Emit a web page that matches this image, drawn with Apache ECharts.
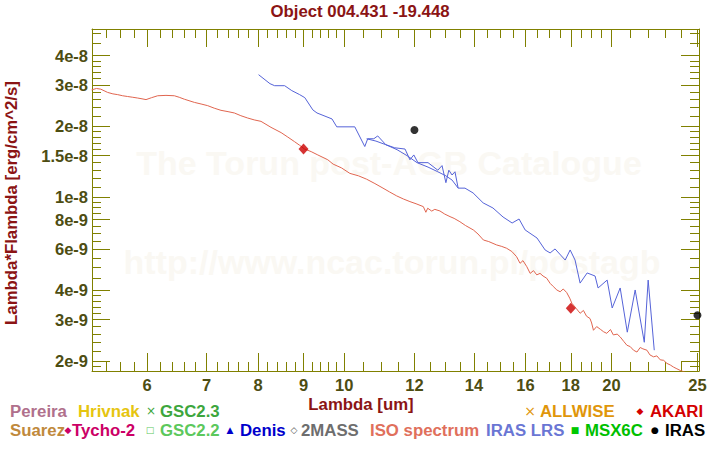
<!DOCTYPE html>
<html><head><meta charset="utf-8">
<script src="https://cdn.jsdelivr.net/npm/echarts@6/dist/echarts.min.js"></script>
<style>html,body{margin:0;padding:0;background:#fff}#c{width:720px;height:450px}</style>
</head><body><div id="c"></div>
<script>
// ---- data ----
const xTickValues = [6, 7, 8, 9, 10, 12, 14, 16, 18, 20, 25];
const xTickLabels = ['6', '7', '8', '9', '10', '12', '14', '16', '18', '20', '25'];
const xMinorTicks = [5.4, 5.6, 5.8, 6.2, 6.4, 6.6, 6.8, 7.2, 7.4, 7.6, 7.8, 8.2, 8.4, 8.6, 8.8, 9.2, 9.4, 9.6, 9.8,
  10.5, 11, 11.5, 12.5, 13, 13.5, 14.5, 15, 15.5, 16.5, 17, 17.5, 18.5, 19, 19.5, 21, 22, 23, 24];
const yTickValues = [2e-9, 3e-9, 4e-9, 6e-9, 8e-9, 1e-8, 1.5e-8, 2e-8, 3e-8, 4e-8];
const yTickLabels = ['2e-9', '3e-9', '4e-9', '6e-9', '8e-9', '1e-8', '1.5e-8', '2e-8', '3e-8', '4e-8'];
const yMinorTicks = [1.9e-9, 2.2e-9, 2.4e-9, 2.6e-9, 2.8e-9, 3.2e-9, 3.4e-9, 3.6e-9, 3.8e-9, 4.5e-9, 5e-9, 5.5e-9,
  6.5e-9, 7e-9, 7.5e-9, 8.5e-9, 9e-9, 9.5e-9, 1.1e-8, 1.2e-8, 1.3e-8, 1.4e-8, 1.6e-8, 1.7e-8, 1.8e-8, 1.9e-8,
  2.2e-8, 2.4e-8, 2.6e-8, 2.8e-8, 3.2e-8, 3.4e-8, 3.6e-8, 3.8e-8, 4.5e-8, 5e-8];

const isoLambda = [5.195, 5.26, 5.32, 5.415, 5.49, 5.558, 5.63, 5.703, 5.78, 5.854, 5.92, 5.982, 6.07, 6.166, 6.30, 6.438,
  6.52, 6.607, 6.781, 6.90, 7.019, 7.14, 7.265, 7.40, 7.522, 7.65, 7.786, 7.92, 8.06, 8.272, 8.492, 8.64, 8.793, 8.91,
  9.025, 9.18, 9.34, 9.585, 9.718, 9.93, 10.15, 10.38, 10.60, 10.83, 11.06, 11.25, 11.46, 11.66, 11.86, 12.05, 12.28,
  12.36, 12.42, 12.55, 12.65, 12.82, 12.98, 13.16, 13.30, 13.50, 13.70, 13.98, 14.15, 14.35, 14.55, 14.85, 15.05, 15.24,
  15.45, 15.64, 15.78, 15.90, 16.06, 16.20, 16.34, 16.48, 16.62, 16.75, 16.91, 17.06, 17.20, 17.36, 17.51, 17.65, 17.81,
  17.95, 18.05, 18.25, 18.44, 18.60, 18.75, 18.92, 19.00, 19.09, 19.25, 19.45, 19.60, 19.76, 19.95, 20.10, 20.30, 20.46,
  20.65, 20.82, 21.00, 21.18, 21.37, 21.55, 21.70, 21.93, 22.10, 22.31, 22.50, 22.70, 22.90, 23.10, 23.30, 23.50, 23.70,
  23.91, 24.10, 24.28];
const isoFlux = [2.86e-8, 2.90e-8, 2.88e-8, 2.79e-8, 2.75e-8, 2.73e-8, 2.70e-8, 2.68e-8, 2.66e-8, 2.64e-8, 2.62e-8, 2.60e-8,
  2.65e-8, 2.70e-8, 2.71e-8, 2.70e-8, 2.66e-8, 2.61e-8, 2.53e-8, 2.49e-8, 2.45e-8, 2.39e-8, 2.34e-8, 2.31e-8, 2.28e-8,
  2.22e-8, 2.17e-8, 2.13e-8, 2.10e-8, 1.98e-8, 1.88e-8, 1.80e-8, 1.72e-8, 1.66e-8, 1.60e-8, 1.56e-8, 1.51e-8, 1.44e-8,
  1.38e-8, 1.33e-8, 1.26e-8, 1.23e-8, 1.19e-8, 1.14e-8, 1.09e-8, 1.05e-8, 1.01e-8, 9.8e-9, 9.55e-9, 9.35e-9, 9.09e-9,
  8.60e-9, 8.95e-9, 8.70e-9, 8.85e-9, 8.71e-9, 8.45e-9, 8.24e-9, 8.10e-9, 7.84e-9, 7.55e-9, 7.23e-9, 6.95e-9, 6.55e-9,
  6.45e-9, 6.24e-9, 6.15e-9, 6.04e-9, 5.85e-9, 5.56e-9, 5.21e-9, 5.35e-9, 5.04e-9, 4.72e-9, 4.85e-9, 4.65e-9, 4.72e-9,
  4.60e-9, 4.50e-9, 4.28e-9, 4.15e-9, 4.01e-9, 3.94e-9, 4.05e-9, 3.91e-9, 3.70e-9, 3.52e-9, 3.35e-9, 3.19e-9, 3.28e-9,
  3.10e-9, 3.03e-9, 2.90e-9, 2.70e-9, 2.80e-9, 2.72e-9, 2.66e-9, 2.62e-9, 2.72e-9, 2.58e-9, 2.60e-9, 2.53e-9, 2.42e-9,
  2.33e-9, 2.30e-9, 2.22e-9, 2.18e-9, 2.28e-9, 2.25e-9, 2.22e-9, 2.12e-9, 2.08e-9, 2.10e-9, 2.02e-9, 2.01e-9, 1.95e-9,
  1.92e-9, 1.88e-9, 1.85e-9, 1.82e-9, 1.80e-9, 1.78e-9];

const lrsShortLambda = [8.01, 8.25, 8.35, 8.57, 8.73, 8.91, 9.03, 9.22, 9.32, 9.69, 9.81, 10.28, 10.55, 10.63, 10.80, 10.91,
  11.14, 11.40, 11.71, 11.86, 11.98, 12.11, 12.43, 12.75, 12.89, 13.02, 13.12, 13.23, 13.33, 13.44];
const lrsShortFlux = [3.32e-8, 3.04e-8, 2.98e-8, 2.98e-8, 2.84e-8, 2.73e-8, 2.65e-8, 2.35e-8, 2.28e-8, 2.15e-8, 1.99e-8,
  1.99e-8, 1.64e-8, 1.77e-8, 1.77e-8, 1.82e-8, 1.67e-8, 1.62e-8, 1.60e-8, 1.44e-8, 1.51e-8, 1.40e-8, 1.40e-8, 1.30e-8,
  1.36e-8, 1.15e-8, 1.30e-8, 1.24e-8, 1.28e-8, 1.09e-8];
const lrsLongLambda = [10.60, 10.86, 11.14, 11.47, 11.77, 12.08, 12.43, 12.75, 13.02, 13.23, 13.44, 13.68, 13.97, 14.34,
  14.71, 15.10, 15.46, 15.74, 15.99, 16.49, 16.84, 17.06, 17.28, 17.74, 17.97, 18.20, 18.44, 18.78, 19.17, 19.32, 19.78,
  20.04, 20.46, 20.84, 21.27, 21.78, 22.00, 22.35];
const lrsLongFlux = [1.77e-8, 1.73e-8, 1.67e-8, 1.59e-8, 1.50e-8, 1.40e-8, 1.34e-8, 1.28e-8, 1.23e-8, 1.18e-8, 1.09e-8,
  1.09e-8, 1.04e-8, 9.43e-9, 8.97e-9, 8.21e-9, 7.74e-9, 8.05e-9, 7.23e-9, 6.68e-9, 5.94e-9, 5.77e-9, 6.00e-9, 5.38e-9,
  5.94e-9, 5.38e-9, 4.29e-9, 4.74e-9, 4.60e-9, 4.09e-9, 4.42e-9, 3.36e-9, 4.09e-9, 2.65e-9, 4.01e-9, 2.40e-9, 4.42e-9,
  2.22e-9];

const akariLambda = [9, 18];
const akariFlux = [1.60e-8, 3.35e-9];
const irasLambda = [12, 25];
const irasFlux = [1.93e-8, 3.13e-9];

// ---- chart ----
const L = Math.log10;
const X_MIN = 5.2, X_MAX = 25.1, Y_MIN = 1.81e-9, Y_MAX = 5.2e-8;
const OLIVE = '#808000';
const LABEL_COL = '#4d4d12';
const DARKRED = '#8b1414';
const FONT = '"Liberation Sans", Arial, Helvetica, sans-serif';
const FS = 16.8;

function pairs(xs, ys) { return xs.map((x, i) => [L(x), L(ys[i])]); }
function lookup(vals, labels) {
  return function (v) {
    for (let i = 0; i < vals.length; i++) if (Math.abs(L(vals[i]) - v) < 1e-6) return labels[i];
    return '';
  };
}
function axis(kind, pos, ticks, len, withLabel, withLine) {
  const isX = kind === 'x';
  return {
    type: 'value', position: pos,
    min: isX ? L(X_MIN) : L(Y_MIN), max: isX ? L(X_MAX) : L(Y_MAX),
    axisLine: { show: withLine, onZero: false, lineStyle: { color: OLIVE, width: 1 } },
    axisTick: { show: true, inside: true, length: len, customValues: ticks.map(L), lineStyle: { color: OLIVE, width: 1 } },
    axisLabel: {
      show: withLabel, customValues: ticks.map(L), margin: isX ? 5 : 4,
      color: LABEL_COL, fontSize: 16.5, fontWeight: 'bold', fontFamily: FONT,
      formatter: isX ? lookup(xTickValues, xTickLabels) : lookup(yTickValues, yTickLabels)
    },
    splitLine: { show: false }, minorTick: { show: false }
  };
}
function txt(x, y, s, color, extra, align) {
  return Object.assign({
    type: 'text', x: x, y: y, silent: true, z: 10,
    style: { text: s, fill: color, font: 'bold ' + FS + 'px ' + FONT, align: align || 'left', verticalAlign: 'middle' }
  }, extra || {});
}
function sym(x, y, s, color, size) {
  return {
    type: 'text', x: x, y: y, silent: true, z: 10,
    style: { text: s, fill: color, font: (size || 10) + 'px "DejaVu Sans", sans-serif', align: 'center', verticalAlign: 'middle' }
  };
}

const chart = echarts.init(document.getElementById('c'), null, { renderer: 'svg', width: 720, height: 450 });
const R1 = 411, R2 = 430;
chart.setOption({
  animation: false,
  backgroundColor: '#ffffff',
  grid: { left: 92, right: 21, top: 29, bottom: 79, containLabel: false },
  xAxis: [
    axis('x', 'bottom', xTickValues, 18, true, true),
    axis('x', 'bottom', xMinorTicks, 9, false, false),
    axis('x', 'top', xTickValues, 18, false, true),
    axis('x', 'top', xMinorTicks, 9, false, false)
  ],
  yAxis: [
    axis('y', 'left', yTickValues, 18, true, true),
    axis('y', 'left', yMinorTicks, 9, false, false),
    axis('y', 'right', yTickValues, 18, false, true),
    axis('y', 'right', yMinorTicks, 9, false, false)
  ],
  series: [
    { name: 'ISO spectrum', type: 'line', data: pairs(isoLambda, isoFlux), showSymbol: false, symbol: 'none',
      lineStyle: { color: '#e0654f', width: 1 }, z: 3 },
    { name: 'IRAS LRS', type: 'line', data: pairs(lrsShortLambda, lrsShortFlux), showSymbol: false, symbol: 'none',
      lineStyle: { color: '#5563d8', width: 1 }, z: 3 },
    { name: 'IRAS LRS', type: 'line', data: pairs(lrsLongLambda, lrsLongFlux), showSymbol: false, symbol: 'none',
      lineStyle: { color: '#5563d8', width: 1 }, z: 3 },
    { name: 'AKARI', type: 'scatter', data: pairs(akariLambda, akariFlux), symbol: 'diamond', symbolSize: [10, 11],
      itemStyle: { color: '#cc0000' }, z: 5 },
    { name: 'IRAS', type: 'scatter', data: pairs(irasLambda, irasFlux), symbol: 'circle', symbolSize: 8, clip: false,
      itemStyle: { color: '#000000' }, z: 5 }
  ],
  graphic: [
    // watermark
    { type: 'text', x: 389, y: 163, z: 0, silent: true,
      style: { text: 'The Torun post-AGB Catalogue', fill: '#faf8f3', font: 'bold 34px ' + FONT, align: 'center', verticalAlign: 'middle' } },
    { type: 'text', x: 392, y: 262, z: 0, silent: true,
      style: { text: 'http://www.ncac.torun.pl/postagb', fill: '#faf8f3', font: 'bold 34px ' + FONT, align: 'center', verticalAlign: 'middle' } },
    // title & axis names
    txt(360, 11, 'Object 004.431 -19.448', DARKRED, {}, 'center'),
    txt(361, 404, 'Lambda [um]', DARKRED, {}, 'center'),
    txt(11, 203, 'Lambda*Flambda [erg/cm^2/s]', DARKRED, { rotation: Math.PI / 2 }, 'center'),
    // legend row 1
    txt(10, R1, 'Pereira', '#b0708c'),
    txt(78, R1, 'Hrivnak', '#e6c510'),
    sym(151, R1, '×', '#3da63d', 12),
    txt(160, R1, 'GSC2.3', '#3da63d'),
    sym(530, R1, '×', '#e0960a', 14),
    txt(540, R1, 'ALLWISE', '#e0960a'),
    sym(640, R1, '◆', '#d40000', 9),
    txt(650, R1, 'AKARI', '#d40000'),
    // legend row 2
    txt(10, R2, 'Suarez', '#c0893c'),
    sym(68, R2, '◆', '#cc0066', 9),
    txt(72, R2, 'Tycho-2', '#cc0066'),
    sym(150, R2, '□', '#5cc85c', 9),
    txt(160, R2, 'GSC2.2', '#5cc85c'),
    sym(230, R2, '▲', '#0000cc', 9),
    txt(240, R2, 'Denis', '#0000cc'),
    sym(294, R2, '◇', '#555555', 9),
    txt(301, R2, '2MASS', '#6e6e6e'),
    txt(370, R2, 'ISO spectrum', '#e0705c'),
    txt(486, R2, 'IRAS LRS', '#6a76d4'),
    sym(575, R2, '■', '#00c800', 9),
    txt(585, R2, 'MSX6C', '#00c000'),
    sym(655, R2, '●', '#000000', 9),
    txt(665, R2, 'IRAS', '#000000')
  ]
});
</script>
</body></html>
